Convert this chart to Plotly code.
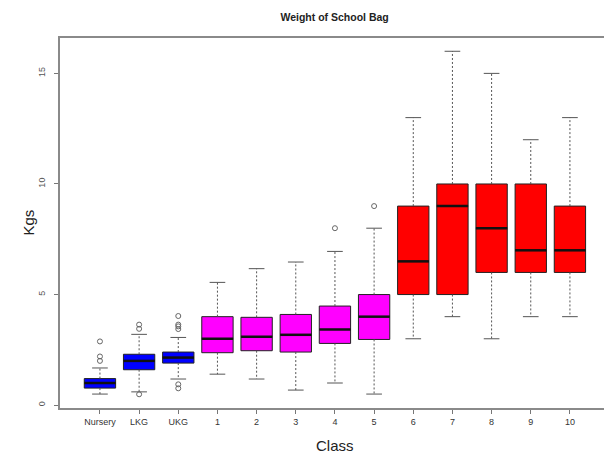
import plotly.graph_objects as go

categories = ["Nursery", "LKG", "UKG", "1", "2", "3", "4", "5", "6", "7", "8", "9", "10"]
q1 = [0.77, 1.6, 1.9, 2.37, 2.46, 2.4, 2.79, 2.97, 5.0, 5.0, 6.0, 6.0, 6.0]
median = [1.0, 2.0, 2.15, 3.0, 3.09, 3.18, 3.42, 4.0, 6.5, 9.0, 8.0, 7.0, 7.0]
q3 = [1.2, 2.3, 2.4, 4.0, 3.97, 4.1, 4.48, 5.0, 9.0, 10.0, 10.0, 10.0, 9.0]
lower_whisker = [0.5, 0.6, 1.18, 1.4, 1.18, 0.68, 1.0, 0.5, 3.0, 4.0, 3.0, 4.0, 4.0]
upper_whisker = [1.68, 3.2, 3.06, 5.55, 6.17, 6.47, 6.95, 8.0, 13.0, 16.0, 15.0, 12.0, 13.0]
group_colors = ["#0000FF"] * 3 + ["#FF00FF"] * 5 + ["#FF0000"] * 5

outlier_class = ["Nursery", "Nursery", "Nursery", "LKG", "LKG", "LKG",
                 "UKG", "UKG", "UKG", "UKG", "UKG", "UKG", "4", "5"]
outlier_value = [2.88, 2.2, 2.0, 3.64, 3.45, 0.49,
                 4.03, 3.64, 3.56, 3.44, 0.94, 0.76, 8.0, 9.0]

yticks = [0, 5, 10, 15]

pos = list(range(1, len(categories) + 1))
box_w = 0.8
cap_w = box_w / 2

fig = go.Figure()

# boxes, one trace per colour
for col in ["#0000FF", "#FF00FF", "#FF0000"]:
    idx = [i for i, c in enumerate(group_colors) if c == col]
    fig.add_trace(go.Box(
        x=[pos[i] for i in idx],
        q1=[q1[i] for i in idx],
        median=[median[i] for i in idx],
        q3=[q3[i] for i in idx],
        lowerfence=[q1[i] for i in idx],
        upperfence=[q3[i] for i in idx],
        fillcolor=col,
        line=dict(color="#222222", width=1),
        width=box_w,
        whiskerwidth=0,
        boxpoints=False,
        showlegend=False,
        hoverinfo="skip",
    ))

# dashed whiskers
wx, wy = [], []
for i, p in enumerate(pos):
    wx += [p, p, None, p, p, None]
    wy += [q3[i], upper_whisker[i], None, q1[i], lower_whisker[i], None]
fig.add_trace(go.Scatter(x=wx, y=wy, mode="lines",
                         line=dict(color="#555555", width=1, dash="2px,2px"),
                         showlegend=False, hoverinfo="skip"))

# caps
cx, cy = [], []
for i, p in enumerate(pos):
    cx += [p - cap_w / 2, p + cap_w / 2, None, p - cap_w / 2, p + cap_w / 2, None]
    cy += [upper_whisker[i], upper_whisker[i], None, lower_whisker[i], lower_whisker[i], None]
fig.add_trace(go.Scatter(x=cx, y=cy, mode="lines",
                         line=dict(color="#555555", width=1),
                         showlegend=False, hoverinfo="skip"))

# medians
mx, my = [], []
for i, p in enumerate(pos):
    mx += [p - box_w / 2, p + box_w / 2, None]
    my += [median[i], median[i], None]
fig.add_trace(go.Scatter(x=mx, y=my, mode="lines",
                         line=dict(color="#111111", width=2.5),
                         showlegend=False, hoverinfo="skip"))

# outliers
fig.add_trace(go.Scatter(
    x=[pos[categories.index(c)] for c in outlier_class],
    y=outlier_value,
    mode="markers",
    marker=dict(symbol="circle-open", size=5, color="#666666", line=dict(width=1)),
    showlegend=False, hoverinfo="skip"))

fig.update_layout(
    width=604, height=453,
    margin=dict(l=60, r=0, t=38, b=45),
    paper_bgcolor="white", plot_bgcolor="white",
    boxmode="overlay",
    font=dict(family="Liberation Sans, Arial, sans-serif", color="#333333"),
    title=dict(text="<b>Weight of School Bag</b>", x=0.554, xref="container",
               y=1 - 17 / 453, yref="container", xanchor="center", yanchor="middle",
               font=dict(size=10.5, color="#222222")),
    xaxis=dict(range=[-0.02, 13.87], tickvals=pos, ticktext=categories,
               showgrid=False, zeroline=False, showline=True, mirror=True,
               linecolor="#8a8a8a", linewidth=1.5, ticks="outside", ticklen=4,
               tickcolor="#777777", tickfont=dict(size=9, color="#333333")),
    yaxis=dict(range=[-0.13, 16.6], tickvals=yticks, ticktext=[str(v) for v in yticks],
               showgrid=False, zeroline=False, showline=True, mirror=False,
               linecolor="#8a8a8a", linewidth=1.5, ticks="outside", ticklen=4,
               ticklabelstandoff=6,
               tickcolor="#777777", tickangle=-90, tickfont=dict(size=9, color="#555555")),
    annotations=[
        dict(text="Class", x=7.0, xref="x", y=0, yref="paper", yshift=-37,
             showarrow=False, font=dict(size=15, color="#222222"), yanchor="middle"),
        dict(text="Kgs", textangle=-90, x=0, xref="paper", xshift=-43, y=0.5, yref="paper",
             showarrow=False, font=dict(size=15, color="#222222")),
    ],
)

fig.write_html("out.html", config={"displayModeBar": False},
               post_script="document.body.style.margin='0';document.body.style.padding='0';")
